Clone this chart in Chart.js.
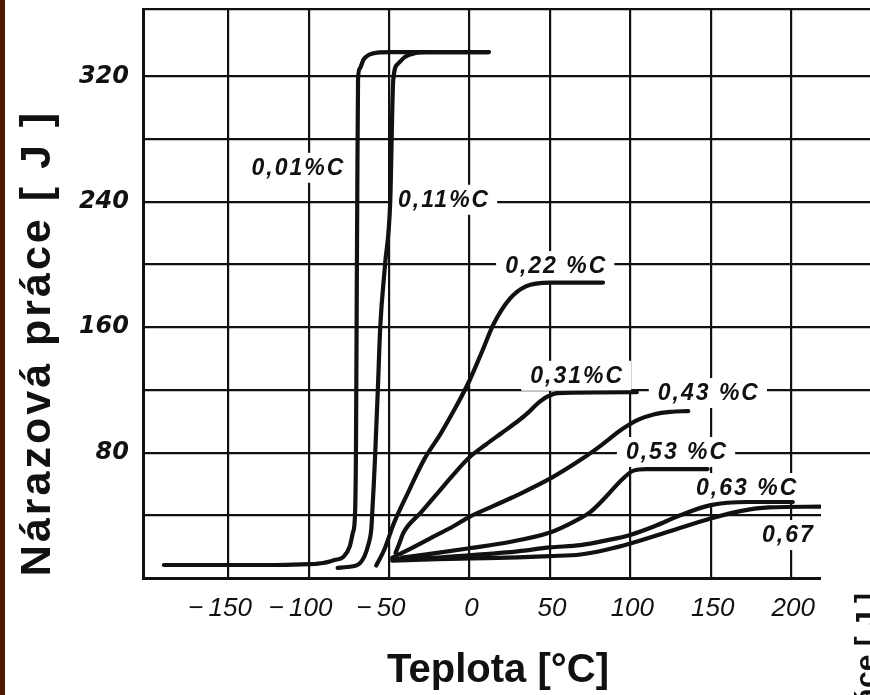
<!DOCTYPE html>
<html>
<head>
<meta charset="utf-8">
<script src="https://cdn.jsdelivr.net/npm/chart.js@4/dist/chart.umd.min.js"></script>
<style>
  html, body { margin: 0; padding: 0; background: #fff; overflow: hidden; }
  canvas { display: block; }
</style>
</head>
<body>
<canvas id="chart" width="870" height="695"></canvas>
<script>
// Axis ticks
const xTicks = [-150, -100, -50, 0, 50, 100, 150, 200];
const xTickLabels = ['−150', '−100', '−50', '0', '50', '100', '150', '200'];
const yTicks = [0, 40, 80, 120, 160, 200, 240, 280, 320, 363];
const yTickLabels = { 80: '80', 160: '160', 240: '240', 320: '320' };

// Impact energy [J] versus test temperature [°C] for carbon steels
const temp001 = [-190, -120, -100, -91, -84, -78.5, -74.5, -72.5, -71.2, -70.6, -70.2, -69.8, -69.3, -68.2, -66, -62.5, -57.4, -48, 12];
const work001 = [8.3, 8.3, 8.8, 9.6, 11.5, 13.4, 20, 29, 40, 80, 160, 240, 318, 325, 330.5, 333.8, 335.2, 335.5, 335.5];

const temp011 = [-82, -76, -68, -62.7, -61, -60.3, -59.5, -58.6, -57, -55.5, -52.5, -49.3, -47.4, -44.5, -40, -34, -26, 12];
const work011 = [6.5, 7, 9.6, 22, 32, 45, 60, 80, 120, 160, 200, 240, 318, 328, 332.5, 334.8, 335.4, 335.5];

const temp022 = [-58, -53, -47, -38, -28, -18, -8, 0, 8, 15, 25, 35, 50, 83];
const work022 = [8, 18, 35, 55, 76, 92, 110, 126, 145, 162, 178, 186, 188.5, 188.5];

const temp031 = [-46, -44, -41, -30, -20, -10, 0, 10, 20, 30, 36, 42, 48, 55, 104];
const work031 = [16, 21, 29, 42, 54, 66, 77, 85, 92.5, 100, 105, 111, 115.5, 118, 118.5];

const temp043 = [-48, -40, -25, -10, 0, 15, 30, 52, 70, 81, 95, 105, 115, 125, 136];
const work043 = [13, 17, 25, 33, 39, 46, 53, 64.5, 76, 84, 95, 101, 104.5, 106, 106.5];

const temp053 = [-42, -20, 0, 25, 50, 65, 75, 85, 95, 102, 110, 148];
const work053 = [13, 16, 19, 23, 29, 36, 42, 52, 63, 68.5, 69.5, 69.5];

const temp063 = [-48, -20, 0, 30, 50, 69, 85, 100, 115, 131, 150, 173, 201];
const work063 = [12, 13, 14.5, 17, 19.5, 21, 24, 27.5, 33, 40, 46.5, 48.5, 48.5];

const temp067 = [-48, -20, 0, 30, 50, 69, 85, 100, 125, 150, 170, 186, 218];
const work067 = [11, 12, 12.5, 13.2, 14, 15, 18, 22, 30, 38, 43, 45, 45.5];

// Curve captions and where they sit (°C, J)
const curveNames = ['0,01%C', '0,11%C', '0,22 %C', '0,31%C', '0,43 %C', '0,53 %C', '0,63 %C', '0,67 %C'];
const captionTemp = [-107, -16.4, 53.3, 66.3, 148.2, 128.4, 172, 213];
const captionWork = [261.7, 241.3, 199, 129, 118, 80.4, 57.4, 27.4];

const temps = [temp001, temp011, temp022, temp031, temp043, temp053, temp063, temp067];
const works = [work001, work011, work022, work031, work043, work053, work063, work067];

const INK = '#111';

const datasets = temps.map((t, k) => ({
  label: curveNames[k],
  data: t.map((v, i) => ({ x: v, y: works[k][i] })),
  borderColor: INK,
  borderWidth: 4.2,
  pointRadius: 0,
  fill: false,
  cubicInterpolationMode: 'monotone',
  borderCapStyle: 'round',
  borderJoinStyle: 'round'
}));

// Paper background with the dark edge on the left
const paper = {
  id: 'paper',
  beforeDraw(chart) {
    const c = chart.ctx;
    c.save();
    c.fillStyle = '#fff';
    c.fillRect(0, 0, chart.width, chart.height);
    c.fillStyle = '#4b1a00';
    c.fillRect(0, 0, 5, chart.height);
    c.restore();
  }
};

// Curve captions on white boxes that break the grid
const captions = {
  id: 'captions',
  beforeDatasetsDraw(chart) {
    const c = chart.ctx, xs = chart.scales.x, ys = chart.scales.y;
    c.save();
    c.font = 'italic bold 23px "Liberation Sans"';
    c.letterSpacing = '2px';
    c.textAlign = 'center';
    c.textBaseline = 'middle';
    curveNames.forEach((name, k) => {
      const px = xs.getPixelForValue(captionTemp[k]);
      const py = ys.getPixelForValue(captionWork[k]);
      const w = c.measureText(name).width;
      c.fillStyle = '#fff';
      c.fillRect(px - w / 2 - 8, py - 15, w + 16, 30);
      c.fillStyle = INK;
      c.fillText(name, px + 1, py + 1);
    });
    c.restore();
  }
};

// Tick numbers of the temperature axis, titles and the trimmed lower-right corner
const frame = {
  id: 'frame',
  afterDraw(chart) {
    const c = chart.ctx, xs = chart.scales.x;
    c.save();
    c.fillStyle = INK;

    c.font = 'italic 26px "Liberation Sans"';
    c.textBaseline = 'alphabetic';
    xTicks.forEach((v, i) => {
      const px = xs.getPixelForValue(v);
      const txt = xTickLabels[i];
      const neg = txt.startsWith('−');
      const digits = neg ? txt.slice(1) : txt;
      const w = c.measureText(digits).width;
      c.textAlign = 'left';
      c.fillText(digits, px - w / 2 + 2, 616);
      if (neg) {
        c.textAlign = 'right';
        c.fillText('−', px - w / 2 - 3, 616);
      }
    });

    c.font = 'bold 40px "Liberation Sans"';
    c.textAlign = 'center';
    c.fillText('Teplota [°C]', 498, 682);

    c.save();
    c.translate(50, 343);
    c.rotate(-Math.PI / 2);
    c.font = 'bold 43px "Liberation Sans"';
    c.letterSpacing = '3px';
    c.textAlign = 'center';
    c.fillText('Nárazová práce [ J ]', 0, 0);
    c.restore();

    c.fillStyle = '#fff';
    c.fillRect(821, 456, chart.width - 821, chart.height - 456);

    c.save();
    c.beginPath();
    c.rect(821, 456, chart.width - 821, chart.height - 456);
    c.clip();
    c.translate(876, 593);
    c.rotate(-Math.PI / 2);
    c.fillStyle = INK;
    c.font = 'bold 30px "Liberation Sans"';
    c.textAlign = 'right';
    c.fillText('Nárazová práce [ J ]', 0, 0);
    c.restore();

    c.restore();
  }
};

new Chart(document.getElementById('chart').getContext('2d'), {
  type: 'line',
  data: { datasets },
  options: {
    responsive: false,
    animation: false,
    devicePixelRatio: 1,
    layout: { padding: { top: 9, left: 0, right: 0, bottom: 0 } },
    plugins: { legend: { display: false }, tooltip: { enabled: false } },
    scales: {
      x: {
        type: 'linear',
        min: -203,
        max: 249,
        afterBuildTicks: s => { s.ticks = xTicks.map(v => ({ value: v })); },
        afterFit: s => { s.height = 117; s.paddingLeft = 0; s.paddingRight = 0; },
        ticks: { display: false },
        grid: { color: INK, lineWidth: 2.2, drawTicks: false },
        border: { color: INK, width: 3 }
      },
      y: {
        type: 'linear',
        min: 0,
        max: 363,
        afterBuildTicks: s => { s.ticks = yTicks.map(v => ({ value: v })); },
        afterFit: s => { s.width = 143; s.paddingTop = 0; s.paddingBottom = 0; },
        ticks: {
          autoSkip: false,
          callback: v => yTickLabels[v] ?? '',
          font: { family: 'DejaVu Sans', size: 24, style: 'italic', weight: 'bold' },
          color: INK,
          padding: 14
        },
        grid: { color: INK, lineWidth: 2.2, drawTicks: false },
        border: { color: INK, width: 3 }
      }
    }
  },
  plugins: [paper, captions, frame]
});
</script>
</body>
</html>
